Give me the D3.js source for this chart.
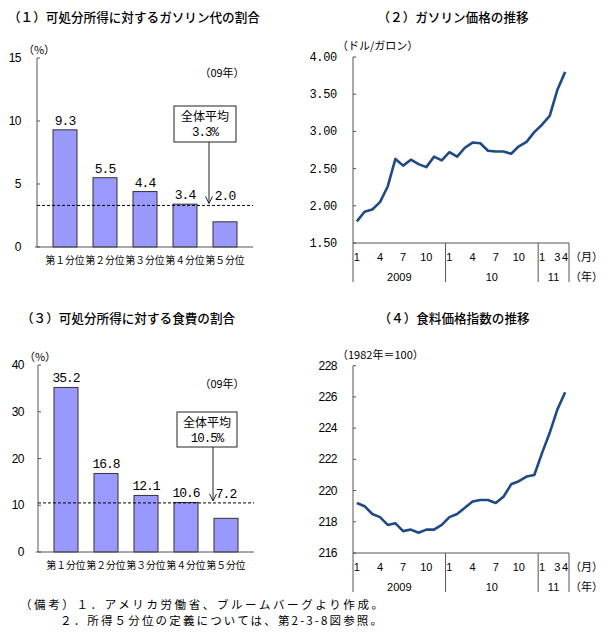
<!DOCTYPE html>
<html>
<head>
<meta charset="utf-8">
<script src="https://cdn.jsdelivr.net/npm/d3@7"></script>
<style>
  body { margin: 0; background: #fff; }
  text { fill: #000; }
</style>
</head>
<body>
<div id="chart"></div>
<script>
// ---- data ----
const quintiles = ["第１分位", "第２分位", "第３分位", "第４分位", "第５分位"];
const gasShare = [9.3, 5.5, 4.4, 3.4, 2.0];
const gasShareAvg = 3.3;
const foodShare = [35.2, 16.8, 12.1, 10.6, 7.2];
const foodShareAvg = 10.5;

const months = ["2009-01", "2009-02", "2009-03", "2009-04", "2009-05", "2009-06", "2009-07", "2009-08", "2009-09", "2009-10", "2009-11", "2009-12",
    "2010-01", "2010-02", "2010-03", "2010-04", "2010-05", "2010-06", "2010-07", "2010-08", "2010-09", "2010-10", "2010-11", "2010-12",
    "2011-01", "2011-02", "2011-03", "2011-04"];
const monthLabels = ["1", "", "", "4", "", "", "7", "", "", "10", "", "",
    "1", "", "", "4", "", "", "7", "", "", "10", "", "",
    "1", "", "3", "4"];
const yearLabels = ["2009", "10", "11"];
const yearFirstMonth = ["2009-01", "2010-01", "2011-01"];

// gasoline price (dollars / gallon)
const gasPrice = [1.79, 1.92, 1.95, 2.05, 2.26, 2.63, 2.54, 2.62, 2.56, 2.52, 2.66, 2.61,
    2.72, 2.66, 2.78, 2.85, 2.84, 2.74, 2.73, 2.73, 2.70, 2.80, 2.86, 2.99,
    3.09, 3.21, 3.56, 3.80];
// food price index (1982 = 100)
const foodIndex = [219.2, 219.0, 218.5, 218.3, 217.8, 217.9, 217.4, 217.5, 217.3, 217.5, 217.5, 217.8,
    218.3, 218.5, 218.9, 219.3, 219.4, 219.4, 219.2, 219.6, 220.4, 220.6, 220.9, 221.0,
    222.4, 223.7, 225.2, 226.3];

const W = 605, H = 642;
const svg = d3.select("#chart").append("svg")
    .attr("width", W)
    .attr("height", H)
    .style("background", "#fff");

const jp = "'Noto Sans CJK JP', 'Noto Sans', sans-serif";
const mono = "'Liberation Mono', 'DejaVu Sans Mono', monospace";
const sans = "'Liberation Sans', Arial, sans-serif";
const axisColor = "#555";

function title(txt, x, y, anchor) {
    svg.append("text")
        .attr("x", x).attr("y", y)
        .attr("text-anchor", anchor || "start")
        .style("font-family", jp)
        .style("font-size", "12.6px")
        .style("font-weight", 500)
        .text(txt);
}

// ---- bar panel ----
function barPanel(o) {
    const x = d3.scaleBand().domain(quintiles).range([o.x0, o.x1]).padding(0.4);
    const y = d3.scaleLinear().domain([0, o.yMax]).range([o.yBottom, o.yTop]);
    const g = svg.append("g");

    // bars
    g.selectAll("rect.bar")
        .data(o.values)
        .join("rect")
        .attr("class", "bar")
        .attr("x", (d, i) => x(quintiles[i]))
        .attr("y", d => y(d))
        .attr("width", x.bandwidth())
        .attr("height", d => y(0) - y(d))
        .attr("fill", "#9999ff")
        .attr("stroke", "#333")
        .attr("stroke-width", 1);

    // value labels (kept above the average line)
    g.selectAll("text.val")
        .data(o.values)
        .join("text")
        .attr("class", "val")
        .attr("x", (d, i) => x(quintiles[i]) + x.bandwidth() / 2)
        .attr("y", d => y(Math.max(d, o.avg)) - 5)
        .attr("text-anchor", "middle")
        .style("font-family", mono)
        .style("font-size", "13px")
        .style("letter-spacing", "-1px")
        .text(d => d.toFixed(1));

    // y axis
    g.append("line")
        .attr("x1", o.x0).attr("x2", o.x0)
        .attr("y1", y(o.yMax)).attr("y2", y(0))
        .attr("stroke", axisColor);
    g.selectAll("line.tick")
        .data(o.ticks)
        .join("line")
        .attr("class", "tick")
        .attr("x1", o.x0).attr("x2", o.x0 + 3)
        .attr("y1", d => y(d)).attr("y2", d => y(d))
        .attr("stroke", axisColor);
    g.selectAll("text.tick")
        .data(o.ticks)
        .join("text")
        .attr("class", "tick")
        .attr("x", o.tickX)
        .attr("y", d => y(d) + 4)
        .attr("text-anchor", "end")
        .style("font-family", sans)
        .style("font-size", "12px")
        .style("letter-spacing", "-0.5px")
        .text(d => d);

    // x axis
    g.append("line")
        .attr("x1", o.x0 - 2).attr("x2", o.x1)
        .attr("y1", y(0)).attr("y2", y(0))
        .attr("stroke", axisColor);
    g.selectAll("text.cat")
        .data(quintiles)
        .join("text")
        .attr("class", "cat")
        .attr("x", d => x(d) + x.bandwidth() / 2)
        .attr("y", y(0) + 17)
        .attr("text-anchor", "middle")
        .style("font-family", jp)
        .style("font-size", "9.8px")
        .text(d => d);

    // average line
    g.append("line")
        .attr("x1", o.x0).attr("x2", o.x1)
        .attr("y1", y(o.avg)).attr("y2", y(o.avg))
        .attr("stroke", "#000")
        .attr("stroke-dasharray", "3,2");

    // unit / year notes
    g.append("text")
        .attr("x", o.x0 + 2).attr("y", y(o.yMax) - 4)
        .attr("text-anchor", "middle")
        .style("font-family", jp)
        .style("font-size", "11px")
        .text("（%）");
    g.append("text")
        .attr("x", o.noteX).attr("y", o.noteY)
        .attr("text-anchor", "middle")
        .style("font-family", jp)
        .style("font-size", "11px")
        .text("（09年）");

    // annotation box + arrow
    const b = o.box;
    g.append("rect")
        .attr("x", b.x).attr("y", b.y)
        .attr("width", b.w).attr("height", b.h)
        .attr("fill", "#fff")
        .attr("stroke", "#222");
    g.append("text")
        .attr("x", b.x + b.w / 2).attr("y", b.y + 15)
        .attr("text-anchor", "middle")
        .style("font-family", jp)
        .style("font-size", "12px")
        .text("全体平均");
    g.append("text")
        .attr("x", b.x + b.w / 2).attr("y", b.y + 30)
        .attr("text-anchor", "middle")
        .style("font-family", mono)
        .style("font-size", "12.5px")
        .style("letter-spacing", "-1px")
        .text(o.avg.toFixed(1) + "%");
    const ay = y(o.avg) - 2;
    g.append("line")
        .attr("x1", b.ax).attr("x2", b.ax)
        .attr("y1", b.y + b.h).attr("y2", ay)
        .attr("stroke", "#222");
    g.append("path")
        .attr("d", `M${b.ax - 3.5},${ay - 7}L${b.ax},${ay}L${b.ax + 3.5},${ay - 7}`)
        .attr("fill", "none")
        .attr("stroke", "#222");
}

// ---- line panel ----
function linePanel(o) {
    const x = d3.scaleBand().domain(months).range([o.x0, o.x1]);
    const y = d3.scaleLinear().domain(o.yDomain).range([o.yBottom, o.yTop]);
    const g = svg.append("g");
    const cx = d => x(d) + x.bandwidth() / 2;
    const bottom = o.yBottom + 39;

    // y axis
    g.append("line")
        .attr("x1", o.x0).attr("x2", o.x0)
        .attr("y1", y(o.yDomain[1])).attr("y2", bottom)
        .attr("stroke", axisColor);
    g.selectAll("line.tick")
        .data(o.ticks)
        .join("line")
        .attr("class", "tick")
        .attr("x1", o.x0).attr("x2", o.x0 + 3)
        .attr("y1", d => y(d)).attr("y2", d => y(d))
        .attr("stroke", axisColor);
    g.selectAll("text.tick")
        .data(o.ticks)
        .join("text")
        .attr("class", "tick")
        .attr("x", o.tickX)
        .attr("y", d => y(d) + 4)
        .attr("text-anchor", "end")
        .style("font-family", o.tickFont)
        .style("font-size", "12px")
        .style("letter-spacing", o.tickSpacing)
        .text(o.fmt);

    // x axis + year separators
    g.append("line")
        .attr("x1", o.x0).attr("x2", o.x1)
        .attr("y1", o.yBottom).attr("y2", o.yBottom)
        .attr("stroke", axisColor);
    const seps = yearFirstMonth.slice(1).map(m => x(m)).concat([o.x1]);
    g.selectAll("line.sep")
        .data(seps)
        .join("line")
        .attr("class", "sep")
        .attr("x1", d => d).attr("x2", d => d)
        .attr("y1", o.yBottom).attr("y2", bottom)
        .attr("stroke", axisColor);

    g.selectAll("text.month")
        .data(months.filter((m, i) => monthLabels[i] !== ""))
        .join("text")
        .attr("class", "month")
        .attr("x", d => cx(d))
        .attr("y", o.yBottom + 18)
        .attr("text-anchor", "middle")
        .style("font-family", sans)
        .style("font-size", "11px")
        .text(d => monthLabels[months.indexOf(d)]);

    const yearEnds = yearFirstMonth.slice(1).map(m => x(m)).concat([o.x1]);
    g.selectAll("text.year")
        .data(yearLabels)
        .join("text")
        .attr("class", "year")
        .attr("x", (d, i) => (x(yearFirstMonth[i]) + yearEnds[i]) / 2)
        .attr("y", o.yBottom + 38)
        .attr("text-anchor", "middle")
        .style("font-family", sans)
        .style("font-size", "11px")
        .text(d => d);

    g.append("text")
        .attr("x", o.x1 + 1).attr("y", o.yBottom + 18)
        .style("font-family", jp)
        .style("font-size", "11px")
        .text("（月）");
    g.append("text")
        .attr("x", o.x1 + 1).attr("y", o.yBottom + 38)
        .style("font-family", jp)
        .style("font-size", "11px")
        .text("（年）");

    // unit
    g.append("text")
        .attr("x", o.x0 - 16).attr("y", y(o.yDomain[1]) - 7)
        .style("font-family", jp)
        .style("font-size", "11px")
        .text(o.unit);

    // series
    const line = d3.line()
        .x((d, i) => cx(months[i]))
        .y(d => y(d));
    g.append("path")
        .datum(o.values)
        .attr("d", line)
        .attr("fill", "none")
        .attr("stroke", "#1f4a86")
        .attr("stroke-width", 2.6)
        .attr("stroke-linejoin", "round");
}

// (1)
title("（１）可処分所得に対するガソリン代の割合", 8, 22);
barPanel({
    values: gasShare, avg: gasShareAvg, yMax: 15, ticks: [0, 5, 10, 15],
    x0: 37, x1: 253, yTop: 58, yBottom: 247, tickX: 21,
    noteX: 222, noteY: 77,
    box: { x: 174, y: 106, w: 62, h: 36, ax: 209 }
});

// (2)
title("（２）ガソリン価格の推移", 453, 22, "middle");
linePanel({
    values: gasPrice, yDomain: [1.5, 4.0], ticks: [1.5, 2.0, 2.5, 3.0, 3.5, 4.0],
    fmt: d3.format(".2f"), tickFont: mono, tickSpacing: "-0.3px",
    x0: 353, x1: 569, yTop: 57, yBottom: 243, tickX: 337,
    unit: "（ドル/ガロン）"
});

// (3)
title("（３）可処分所得に対する食費の割合", 21, 323);
barPanel({
    values: foodShare, avg: foodShareAvg, yMax: 40, ticks: [0, 10, 20, 30, 40],
    x0: 38, x1: 254, yTop: 365, yBottom: 552, tickX: 24,
    noteX: 222, noteY: 388,
    box: { x: 177, y: 412, w: 60, h: 35, ax: 213 }
});

// (4)
title("（４）食料価格指数の推移", 454, 323, "middle");
linePanel({
    values: foodIndex, yDomain: [216, 228], ticks: [216, 218, 220, 222, 224, 226, 228],
    fmt: d => d, tickFont: sans, tickSpacing: "-0.5px",
    x0: 353, x1: 569, yTop: 365.7, yBottom: 553, tickX: 337,
    unit: "（1982年＝100）"
});

// notes
svg.append("text")
    .attr("x", 20).attr("y", 609)
    .attr("textLength", 363).attr("lengthAdjust", "spacing")
    .style("font-family", jp)
    .style("font-size", "11.5px")
    .text("（備考）１．アメリカ労働省、ブルームバーグより作成。");
svg.append("text")
    .attr("x", 60).attr("y", 625)
    .attr("textLength", 322).attr("lengthAdjust", "spacing")
    .style("font-family", jp)
    .style("font-size", "11.5px")
    .text("２．所得５分位の定義については、第2-3-8図参照。");
</script>
</body>
</html>
